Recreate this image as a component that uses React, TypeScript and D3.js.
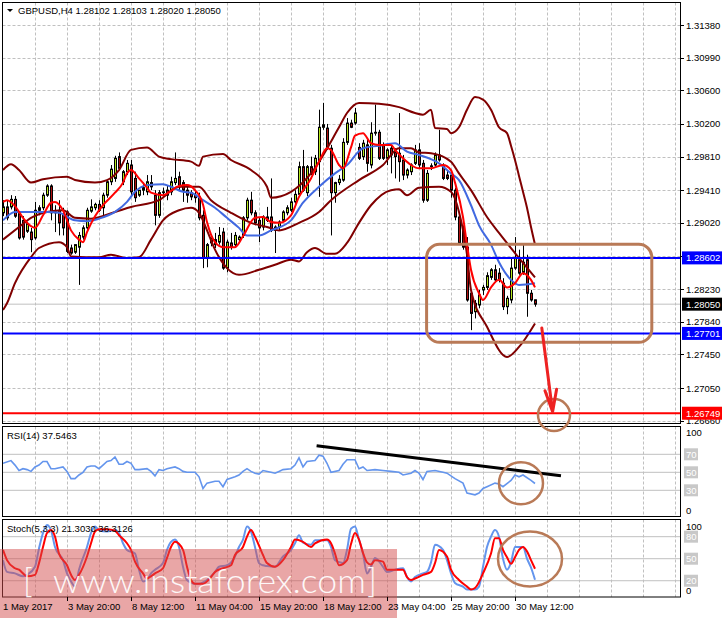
import React from 'react';
import * as d3 from 'd3';

// GBPUSD H4 candles, bar 0 = first bar on screen
const opens = [1.2914, 1.2921, 1.2921, 1.2930, 1.2913, 1.2905, 1.2892, 1.2891, 1.2884, 1.2917,
  1.2920, 1.2935, 1.2946, 1.2915, 1.2917, 1.2913, 1.2915, 1.2872, 1.2867, 1.2873,
  1.2885, 1.2896, 1.2916, 1.2920, 1.2924, 1.2920, 1.2935, 1.2951, 1.2955, 1.2981,
  1.2951, 1.2963, 1.2971, 1.2955, 1.2935, 1.2941, 1.2939, 1.2950, 1.2935, 1.2911,
  1.2938, 1.2941, 1.2939, 1.2950, 1.2957, 1.2950, 1.2941, 1.2938, 1.2935, 1.2933,
  1.2911, 1.2860, 1.2878, 1.2882, 1.2879, 1.2891, 1.2848, 1.2878, 1.2876, 1.2882,
  1.2887, 1.2908, 1.2929, 1.2914, 1.2905, 1.2897, 1.2909, 1.2909, 1.2897, 1.2897,
  1.2905, 1.2914, 1.2917, 1.2927, 1.2936, 1.2969, 1.2938, 1.2969, 1.2963, 1.2975,
  1.3016, 1.3015, 1.2991, 1.2938, 1.2950, 1.2953, 1.2998, 1.3021, 1.3021, 1.2992,
  1.2981, 1.2995, 1.2971, 1.3009, 1.3010, 1.2995, 1.2979, 1.2991, 1.2986, 1.2985,
  1.2977, 1.2959, 1.2963, 1.2973, 1.2989, 1.2973, 1.2929, 1.2970, 1.2971, 1.2983,
  1.2969, 1.2959, 1.2959, 1.2941, 1.2909, 1.2893, 1.2873, 1.2818, 1.2796, 1.2804,
  1.2822, 1.2825, 1.2837, 1.2846, 1.2842, 1.2830, 1.2802, 1.2810, 1.2848, 1.2858,
  1.2843, 1.2858, 1.2818, 1.28102];
const highs = [1.2929, 1.2929, 1.2935, 1.2934, 1.2915, 1.2910, 1.2903, 1.2896, 1.2927, 1.2923,
  1.2938, 1.2948, 1.2948, 1.2923, 1.2929, 1.2920, 1.2917, 1.2876, 1.2876, 1.2891,
  1.2899, 1.2920, 1.2930, 1.2926, 1.2929, 1.2938, 1.2953, 1.2971, 1.2982, 1.2986,
  1.2965, 1.2977, 1.2977, 1.2963, 1.2941, 1.2950, 1.2959, 1.2959, 1.2941, 1.2941,
  1.2944, 1.2947, 1.2957, 1.2986, 1.2963, 1.2953, 1.2946, 1.2941, 1.2941, 1.2938,
  1.2917, 1.2878, 1.2884, 1.2890, 1.2897, 1.2896, 1.2882, 1.2890, 1.2891, 1.2887,
  1.2910, 1.2932, 1.2939, 1.2917, 1.2908, 1.2911, 1.2921, 1.2955, 1.2899, 1.2905,
  1.2917, 1.2923, 1.2932, 1.2941, 1.2975, 1.2989, 1.2971, 1.2981, 1.2983, 1.3037,
  1.3045, 1.3020, 1.2995, 1.2951, 1.2959, 1.3003, 1.3027, 1.3025, 1.3039, 1.2997,
  1.3001, 1.3001, 1.3022, 1.3043, 1.3013, 1.2998, 1.2991, 1.2995, 1.2991, 1.3033,
  1.2983, 1.2967, 1.2973, 1.2995, 1.2997, 1.2977, 1.2965, 1.2973, 1.2986, 1.3013,
  1.2973, 1.2965, 1.2963, 1.2944, 1.2911, 1.2899, 1.2885, 1.2822, 1.2810, 1.2822,
  1.2828, 1.2843, 1.2848, 1.2852, 1.2848, 1.2836, 1.2815, 1.2860, 1.2885, 1.2870,
  1.2876, 1.2864, 1.2822, 1.28103];
const lows = [1.2910, 1.2905, 1.2918, 1.2908, 1.2882, 1.2882, 1.2890, 1.2867, 1.2882, 1.2911,
  1.2917, 1.2933, 1.2905, 1.2891, 1.2887, 1.2887, 1.2866, 1.2864, 1.2865, 1.2828,
  1.2882, 1.2893, 1.2914, 1.2917, 1.2915, 1.2911, 1.2932, 1.2947, 1.2951, 1.2965,
  1.2947, 1.2959, 1.2935, 1.2927, 1.2933, 1.2935, 1.2935, 1.2941, 1.2899, 1.2908,
  1.2933, 1.2929, 1.2935, 1.2947, 1.2941, 1.2927, 1.2926, 1.2929, 1.2926, 1.2905,
  1.2848, 1.2849, 1.2874, 1.2872, 1.2876, 1.2846, 1.2843, 1.2870, 1.2873, 1.2878,
  1.2884, 1.2905, 1.2911, 1.2899, 1.2879, 1.2893, 1.2903, 1.2891, 1.2866, 1.2893,
  1.2903, 1.2911, 1.2915, 1.2924, 1.2934, 1.2939, 1.2934, 1.2959, 1.2959, 1.2933,
  1.3013, 1.2989, 1.2887, 1.2926, 1.2947, 1.2951, 1.2995, 1.3015, 1.3019, 1.2977,
  1.2977, 1.2963, 1.2967, 1.3006, 1.2977, 1.2977, 1.2971, 1.2961, 1.2955, 1.2951,
  1.2953, 1.2955, 1.2959, 1.2971, 1.2967, 1.2926, 1.2927, 1.2965, 1.2969, 1.2975,
  1.2953, 1.2953, 1.2932, 1.2905, 1.2876, 1.2870, 1.2808, 1.2774, 1.2788, 1.2800,
  1.2816, 1.2822, 1.2834, 1.2831, 1.2831, 1.2798, 1.2793, 1.2806, 1.2846, 1.2840,
  1.2840, 1.2790, 1.2808, 1.28020];
const closes = [1.2921, 1.2908, 1.2930, 1.2910, 1.2884, 1.2885, 1.2901, 1.2882, 1.2917, 1.2920,
  1.2935, 1.2946, 1.2914, 1.2914, 1.2902, 1.2896, 1.2868, 1.2866, 1.2876, 1.2887,
  1.2896, 1.2917, 1.2921, 1.2924, 1.2917, 1.2935, 1.2951, 1.2966, 1.2979, 1.2967,
  1.2963, 1.2973, 1.2939, 1.2932, 1.2941, 1.2944, 1.2951, 1.2945, 1.2911, 1.2938,
  1.2939, 1.2935, 1.2951, 1.2955, 1.2945, 1.2941, 1.2935, 1.2933, 1.2932, 1.2908,
  1.2860, 1.2876, 1.2884, 1.2876, 1.2887, 1.2848, 1.2879, 1.2873, 1.2887, 1.2885,
  1.2908, 1.2929, 1.2914, 1.2902, 1.2896, 1.2909, 1.2905, 1.2893, 1.2893, 1.2903,
  1.2915, 1.2920, 1.2927, 1.2936, 1.2969, 1.2941, 1.2969, 1.2961, 1.2979, 1.3016,
  1.3019, 1.2991, 1.2938, 1.2950, 1.2954, 1.2998, 1.3021, 1.3016, 1.3033, 1.2979,
  1.2997, 1.2973, 1.3009, 1.3010, 1.2979, 1.2979, 1.2989, 1.2983, 1.2981, 1.2975,
  1.2959, 1.2965, 1.2971, 1.2989, 1.2971, 1.2929, 1.2961, 1.2969, 1.2983, 1.2977,
  1.2955, 1.2955, 1.2941, 1.2909, 1.2878, 1.2873, 1.2810, 1.2794, 1.2806, 1.2816,
  1.2825, 1.2839, 1.2846, 1.2834, 1.2834, 1.2802, 1.2812, 1.2848, 1.2860, 1.2842,
  1.2855, 1.2818, 1.2810, 1.28050];

// indicator lines as [bar, value]
const bbUpper = [[0, 1.2965], [2, 1.2972], [4, 1.2965], [7, 1.2950], [10, 1.2954], [16, 1.2957], [18, 1.2953],
  [23, 1.2950], [26, 1.2953], [29, 1.2965], [32, 1.2989], [36, 1.2992], [39, 1.2981], [42, 1.2978], [47, 1.2975],
  [49, 1.2970], [50, 1.2981], [55, 1.2984], [57, 1.2977], [62, 1.2965], [66, 1.2945], [67, 1.2932], [72, 1.2939],
  [77, 1.2961], [84, 1.3016], [86, 1.3033], [89, 1.3045], [94, 1.3044], [99, 1.3040], [103, 1.3033], [105, 1.3031],
  [107, 1.3037], [108, 1.3015], [111, 1.3014], [112, 1.3009], [114, 1.3016], [116, 1.3037], [118, 1.3052],
  [120, 1.3049], [122, 1.3037], [124, 1.3016], [126, 1.3009], [127, 1.2994], [128, 1.2977], [129, 1.2958],
  [130, 1.2939], [131, 1.2920], [132, 1.2897], [133, 1.2876]];
const bbMiddle = [[0, 1.2882], [4, 1.2897], [7, 1.2908], [11, 1.2915], [15, 1.2917], [18, 1.2908], [22, 1.2907],
  [28, 1.2915], [32, 1.2921], [39, 1.2929], [44, 1.2945], [49, 1.2945], [52, 1.2929], [57, 1.2914], [62, 1.2902],
  [66, 1.2897], [69, 1.2893], [74, 1.2902], [79, 1.2915], [82, 1.2929], [89, 1.2953], [95, 1.2971], [99, 1.2991],
  [102, 1.2991], [104, 1.2986], [107, 1.2985], [112, 1.2975], [114, 1.2961], [117, 1.2941], [121, 1.2909],
  [124, 1.2890], [128, 1.2866], [133, 1.2837]];
const bbLower = [[0, 1.2798], [1, 1.2806], [3, 1.2830], [7, 1.2861], [9, 1.2872], [14, 1.2879], [16, 1.2873],
  [17, 1.2862], [24, 1.2861], [27, 1.2864], [31, 1.2860], [34, 1.2861], [37, 1.2882], [40, 1.2905], [44, 1.2917],
  [47, 1.2920], [49, 1.2914], [51, 1.2893], [53, 1.2870], [56, 1.2848], [59, 1.2840], [64, 1.2846], [68, 1.2852],
  [72, 1.2858], [74, 1.2856], [76, 1.2867], [78, 1.2872], [81, 1.2865], [83, 1.2865], [86, 1.2878], [89, 1.2902],
  [92, 1.2923], [97, 1.2941], [99, 1.2942], [101, 1.2935], [104, 1.2944], [109, 1.2945], [112, 1.2939],
  [114, 1.2915], [116, 1.2864], [117, 1.2822], [121, 1.2778], [126, 1.2742], [129, 1.2754], [133, 1.2782]];
const maFast = [[0, 1.2927], [1, 1.2929], [3, 1.2922], [5, 1.2908], [7, 1.2898], [8, 1.2896], [10, 1.2911],
  [12, 1.2926], [13, 1.2927], [15, 1.2917], [17, 1.2893], [19, 1.2882], [20, 1.2879], [21, 1.2891], [23, 1.2910],
  [25, 1.2923], [28, 1.2938], [30, 1.2950], [31, 1.2961], [32, 1.2965], [34, 1.2955], [36, 1.2944], [37, 1.2938],
  [40, 1.2935], [42, 1.2940], [44, 1.2946], [46, 1.2947], [48, 1.2941], [50, 1.2924], [51, 1.2903], [53, 1.2879],
  [55, 1.2873], [58, 1.2873], [60, 1.2886], [63, 1.2908], [65, 1.2909], [67, 1.2903], [69, 1.2902], [72, 1.2911],
  [74, 1.2933], [77, 1.2955], [79, 1.2975], [81, 1.2991], [82, 1.2989], [84, 1.2971], [85, 1.2967], [87, 1.2992],
  [88, 1.3006], [90, 1.3009], [92, 1.2997], [94, 1.2995], [97, 1.2995], [98, 1.2989], [100, 1.2979], [102, 1.2971],
  [104, 1.2967], [107, 1.2967], [110, 1.2971], [112, 1.2965], [113, 1.2950], [115, 1.2909], [116, 1.2876],
  [117, 1.2846], [119, 1.2818], [120, 1.2810], [122, 1.2825], [124, 1.2834], [126, 1.2825], [128, 1.2830],
  [130, 1.2842], [132, 1.2834], [133, 1.2825]];
const maSlow = [[0, 1.2905], [3, 1.2915], [11, 1.2915], [14, 1.2914], [18, 1.2905], [21, 1.2904], [24, 1.2907],
  [28, 1.2915], [31, 1.2927], [33, 1.2939], [36, 1.2947], [40, 1.2948], [42, 1.2945], [45, 1.2939], [47, 1.2938],
  [50, 1.2929], [53, 1.2920], [56, 1.2908], [59, 1.2896], [61, 1.2887], [64, 1.2887], [67, 1.2893], [72, 1.2905],
  [75, 1.2926], [79, 1.2945], [83, 1.2961], [86, 1.2971], [90, 1.2991], [94, 1.2994], [98, 1.2997], [101, 1.2987],
  [104, 1.2983], [109, 1.2973], [112, 1.2961], [114, 1.2953], [117, 1.2923], [119, 1.2899], [122, 1.2876],
  [124, 1.2855], [127, 1.2834], [129, 1.2828], [133, 1.2830]];

const rsiLine = [[0, 60], [2, 63], [3, 58], [4, 52], [5, 54], [6, 53], [7, 51], [8, 56], [9, 58], [10, 62], [11, 62],
  [12, 54], [13, 54], [15, 56], [16, 51], [17, 43], [18, 43], [19, 47], [20, 50], [21, 56], [22, 57], [23, 57],
  [24, 54], [25, 58], [26, 62], [27, 63], [28, 67], [29, 59], [30, 59], [31, 62], [32, 60], [33, 53], [34, 53],
  [36, 54], [37, 51], [38, 46], [39, 53], [40, 52], [41, 54], [43, 56], [44, 54], [45, 51], [46, 50], [48, 50],
  [49, 45], [50, 32], [51, 38], [53, 40], [54, 40], [55, 34], [56, 42], [58, 45], [59, 47], [60, 51], [61, 54],
  [62, 51], [63, 49], [64, 48], [65, 52], [67, 50], [68, 49], [69, 51], [70, 53], [72, 54], [73, 58], [74, 66],
  [75, 56], [76, 62], [78, 63], [79, 69], [80, 68], [81, 60], [82, 50], [84, 52], [85, 59], [86, 64], [88, 64],
  [89, 54], [90, 56], [91, 52], [93, 53], [95, 52], [97, 51], [99, 50], [100, 47], [102, 49], [103, 52], [104, 49],
  [105, 42], [106, 51], [108, 52], [110, 50], [111, 49], [113, 43], [115, 38], [116, 27], [118, 25], [119, 27],
  [120, 32], [121, 34], [123, 38], [124, 37], [125, 34], [127, 41], [128, 47], [129, 45], [130, 47], [132, 41],
  [133, 37.55]];
const stochMain = [[0, 48], [1, 32], [3, 30], [5, 26], [6, 28], [8, 39], [9, 64], [10, 85], [11, 96], [12, 89],
  [13, 66], [15, 48], [16, 30], [17, 19], [18, 12], [19, 35], [21, 66], [22, 85], [23, 94], [24, 89], [26, 87],
  [28, 89], [29, 85], [30, 71], [31, 62], [33, 57], [34, 35], [35, 19], [36, 21], [37, 30], [38, 35], [40, 44],
  [41, 62], [42, 73], [43, 76], [44, 66], [45, 39], [46, 21], [48, 16], [49, 16], [51, 21], [53, 32], [54, 39],
  [56, 41], [58, 53], [59, 66], [60, 76], [61, 94], [62, 87], [63, 66], [64, 44], [65, 41], [66, 40], [68, 39],
  [70, 53], [72, 62], [73, 71], [74, 82], [75, 72], [77, 69], [78, 75], [81, 75], [82, 66], [83, 48], [85, 44],
  [86, 62], [87, 91], [88, 94], [89, 76], [90, 57], [91, 30], [92, 39], [93, 51], [95, 39], [96, 32], [98, 35],
  [100, 37], [101, 25], [102, 19], [103, 25], [105, 30], [106, 32], [107, 45], [108, 69], [110, 62], [111, 48],
  [112, 30], [113, 17], [115, 12], [116, 8], [118, 8], [119, 12], [120, 39], [121, 66], [122, 80], [123, 89],
  [124, 80], [125, 50], [126, 35], [127, 45], [128, 66], [130, 66], [131, 50], [132, 38], [133, 21.3]];
const stochSignal = [[0, 62], [1, 48], [3, 37], [4, 35], [5, 30], [6, 26], [8, 28], [9, 44], [10, 66], [11, 85],
  [12, 89], [13, 80], [14, 57], [16, 41], [17, 28], [18, 21], [19, 28], [21, 53], [22, 71], [23, 87], [24, 90],
  [26, 90], [28, 88], [29, 82], [31, 71], [32, 62], [33, 46], [35, 30], [36, 23], [37, 26], [38, 30], [40, 37],
  [41, 51], [42, 66], [43, 73], [45, 62], [46, 39], [47, 21], [48, 16], [50, 16], [52, 25], [53, 32], [55, 37],
  [57, 41], [58, 55], [60, 66], [61, 80], [62, 89], [63, 80], [65, 55], [66, 44], [68, 39], [70, 48], [72, 66],
  [73, 76], [75, 73], [77, 66], [78, 71], [81, 76], [82, 71], [83, 57], [84, 41], [86, 48], [87, 70], [88, 85],
  [89, 76], [90, 58], [91, 45], [92, 42], [93, 48], [95, 46], [96, 35], [98, 35], [100, 35], [101, 25], [102, 21],
  [103, 23], [105, 28], [107, 32], [108, 44], [109, 62], [111, 53], [112, 35], [114, 21], [116, 12], [117, 8],
  [118, 10], [120, 30], [122, 57], [123, 78], [124, 78], [125, 62], [126, 52], [127, 43], [128, 52], [129, 62],
  [130, 66], [131, 60], [132, 48], [133, 36.3]];

const priceTicks = [1.3138, 1.3099, 1.3060, 1.3020, 1.2981, 1.2941, 1.2902, 1.2862, 1.2823, 1.2784, 1.2745, 1.2705, 1.2666];
const timeLabels = ['1 May 2017', '3 May 20:00', '8 May 12:00', '11 May 04:00', '15 May 20:00', '18 May 12:00',
  '23 May 04:00', '25 May 20:00', '30 May 12:00'];
const timeLabelBars = [0, 16, 32, 48, 64, 80, 96, 112, 128];
const supportLevels = [1.28602, 1.27701];
const targetLevel = 1.26749;
const lastPrice = 1.2805;
const rsiLevels = [70, 50, 30];
const stochLevels = [80, 50, 20];

// hand-drawn marks, in bar / value units
const rangeBox = [105.9, 162.2, 1.28764, 1.27595];
const arrowFrom = [134.7, 1.27765];
const arrowTip = [137.4, 1.26767];
const arrowHeadL = [135.5, 1.27017];
const arrowHeadR = [138.4, 1.27034];
const targetMark = [137.75, 1.26727];
const rsiTrend = [[78.4, 79.6], [139.5, 46.2]];
const rsiMark = [129.5, 37.8];
const stochMark = [131.75, 49.7];

const FONT = "'Liberation Sans', Arial, sans-serif";
const BROWN = '#b97a57';

export default function App() {
  const x = d3.scaleLinear().domain([0, 169.25]).range([3, 680]);
  const y = d3.scaleLinear().domain([1.2705, 1.3138]).range([388, 25]);
  const yRsi = d3.scaleLinear().domain([0, 100]).range([517.3, 427.3]);
  const ySto = d3.scaleLinear().domain([0, 100]).range([595.4, 522]);

  const priceLine = d3.line<number[]>().x(d => x(d[0])).y(d => y(d[1])).curve(d3.curveMonotoneX);
  const rsiPath = d3.line<number[]>().x(d => x(d[0])).y(d => yRsi(d[1]));
  const stoPath = d3.line<number[]>().x(d => x(d[0])).y(d => ySto(d[1])).curve(d3.curveMonotoneX);

  const vGrid = d3.range(8, 169, 8);
  const L = 2.5, R = 680.5;
  const panels = [[2.5, 423.5], [426.5, 516.5], [519.5, 597]];
  // tick labels that sit under a level box are not shown
  const shownTicks = priceTicks.filter(t => supportLevels.every(v => Math.abs(y(t) - y(v)) > 8));

  const label = (v: number, txt: string, bg: string, fg: string, key: string) => (
    <g key={key}>
      <rect x={682} y={y(v) - 6.5} width={40} height={13} fill={bg} />
      <text x={686} y={y(v) + 3.5} fontSize={9.5} fill={fg}>{txt}</text>
    </g>
  );

  return (
    <svg width={723} height={618} style={{ position: 'absolute', left: 0, top: 0, background: '#fff' }} fontFamily={FONT}>
      <defs>
        <clipPath id="cMain"><rect x={3} y={3} width={677} height={420} /></clipPath>
        <clipPath id="cRsi"><rect x={3} y={427} width={677} height={89} /></clipPath>
        <clipPath id="cSto"><rect x={3} y={520} width={677} height={76.5} /></clipPath>
      </defs>
      <rect width={723} height={618} fill="#fff" />

      {/* vertical grid */}
      {panels.map((p, i) => (
        <g key={'vg' + i}>
          {vGrid.map(b => (
            <line key={b} x1={x(b) + 0.5} x2={x(b) + 0.5} y1={p[0]} y2={p[1]} stroke="#c0c0c0" strokeDasharray="3,2" />
          ))}
        </g>
      ))}
      {/* price grid */}
      {priceTicks.map(t => (
        <line key={t} x1={L} x2={R} y1={Math.round(y(t)) + 0.5} y2={Math.round(y(t)) + 0.5} stroke="#c0c0c0" strokeDasharray="3,2" />
      ))}
      {rsiLevels.map(v => (
        <line key={'r' + v} x1={L} x2={R} y1={yRsi(v)} y2={yRsi(v)} stroke="#c0c0c0" />
      ))}
      {stochLevels.map(v => (
        <line key={'s' + v} x1={L} x2={R} y1={ySto(v)} y2={ySto(v)} stroke="#c0c0c0" />
      ))}

      <g clipPath="url(#cMain)">
        <line x1={L} x2={R} y1={y(lastPrice)} y2={y(lastPrice)} stroke="#c0c0c0" />
        {/* candles */}
        {closes.map((c, i) => {
          const cx = Math.round(x(i));
          const o = opens[i];
          const top = y(Math.max(o, c)), bot = y(Math.min(o, c));
          return (
            <g key={i}>
              <line x1={cx + 0.5} x2={cx + 0.5} y1={y(highs[i])} y2={y(lows[i])} stroke="#000" />
              <rect x={cx - 0.5} y={top} width={2} height={Math.max(bot - top, 0.5)}
                fill={c >= o ? '#b5e61d' : '#b01010'} stroke="#000" />
            </g>
          );
        })}
        <path d={priceLine(bbUpper) || ''} fill="none" stroke="#800000" strokeWidth={2} />
        <path d={priceLine(bbMiddle) || ''} fill="none" stroke="#800000" strokeWidth={2} />
        <path d={priceLine(bbLower) || ''} fill="none" stroke="#800000" strokeWidth={2} />
        <path d={priceLine(maSlow) || ''} fill="none" stroke="#4169e1" strokeWidth={2} />
        <path d={priceLine(maFast) || ''} fill="none" stroke="#ff0000" strokeWidth={2} />
        {supportLevels.map(v => (
          <line key={v} x1={L} x2={R} y1={y(v)} y2={y(v)} stroke="#0000ff" strokeWidth={2} />
        ))}
        <line x1={L} x2={R} y1={y(targetLevel)} y2={y(targetLevel)} stroke="#ff0000" strokeWidth={2} />
      </g>

      <g clipPath="url(#cRsi)">
        <path d={rsiPath(rsiLine) || ''} fill="none" stroke="#6495ed" strokeWidth={1.6} />
      </g>
      <g clipPath="url(#cSto)">
        <path d={stoPath(stochMain) || ''} fill="none" stroke="#6495ed" strokeWidth={2} />
        <path d={stoPath(stochSignal) || ''} fill="none" stroke="#ff0000" strokeWidth={2} />
      </g>

      {/* panel borders */}
      {panels.map((p, i) => (
        <rect key={'pb' + i} x={L} y={p[0]} width={R - L} height={p[1] - p[0]} fill="none" stroke="#000" />
      ))}

      {/* right price scale */}
      {priceTicks.map(t => (
        <line key={'tk' + t} x1={681} x2={684} y1={Math.round(y(t)) + 0.5} y2={Math.round(y(t)) + 0.5} stroke="#000" />
      ))}
      {shownTicks.map(t => (
        <text key={'pt' + t} x={686} y={y(t) + 3.5} fontSize={9.5} fill="#000">{t.toFixed(5)}</text>
      ))}
      {label(lastPrice, lastPrice.toFixed(5), '#000', '#fff', 'lp')}
      {supportLevels.map(v => label(v, v.toFixed(5), '#0000ff', '#fff', 'sl' + v))}
      {label(targetLevel, targetLevel.toFixed(5), '#ff0000', '#fff', 'tl')}

      {/* indicator scales */}
      <text x={686} y={yRsi(100) + 9} fontSize={9.5}>100</text>
      <text x={686} y={yRsi(0) - 3} fontSize={9.5}>0</text>
      {rsiLevels.map(v => (
        <g key={'rl' + v}>
          <rect x={684} y={yRsi(v) - 6} width={14} height={12} fill="#c8c8c8" />
          <text x={686} y={yRsi(v) + 3.5} fontSize={9.5} fill="#fff">{v}</text>
        </g>
      ))}
      <text x={686} y={ySto(100) + 8} fontSize={9.5}>100</text>
      <text x={686} y={ySto(0) - 1} fontSize={9.5}>0</text>
      {stochLevels.map(v => (
        <g key={'sl' + v}>
          <rect x={684} y={ySto(v) - 6} width={14} height={12} fill="#c8c8c8" />
          <text x={686} y={ySto(v) + 3.5} fontSize={9.5} fill="#fff">{v}</text>
        </g>
      ))}

      {/* titles */}
      <path d="M7,9 L13,9 L10,12 Z" fill="#000" />
      <text x={18} y={14} fontSize={9.5}>GBPUSD,H4  1.28102 1.28103 1.28020 1.28050</text>
      <text x={7} y={439} fontSize={9.5}>RSI(14) 37.5463</text>

      {/* watermark */}
      <rect x={0} y={549} width={397} height={69} fill="rgb(211,77,77)" opacity={0.5} />
      <g fill="#fff" fontFamily="Lato, 'Open Sans', sans-serif" fontWeight={300} opacity={0.92}>
        <text x={23} y={593} fontSize={33}>[</text>
        <text x={53} y={593} fontSize={33} textLength={313} lengthAdjust="spacingAndGlyphs">www.instaforex.com</text>
        <text x={367} y={593} fontSize={33}>]</text>
      </g>
      <text x={7} y={532} fontSize={9.5}>Stoch(5,3,3) 21.3030 36.3126</text>

      {/* time axis */}
      {timeLabelBars.map((b, i) => (
        <g key={'tl' + b}>
          {b > 0 && <line x1={x(b) + 0.5} x2={x(b) + 0.5} y1={597} y2={601} stroke="#000" />}
          <text x={b > 0 ? x(b) + 1 : 3} y={610} fontSize={9.5}>{timeLabels[i]}</text>
        </g>
      ))}

      {/* annotations */}
      <rect x={x(rangeBox[0])} y={y(rangeBox[2])} width={x(rangeBox[1]) - x(rangeBox[0])}
        height={y(rangeBox[3]) - y(rangeBox[2])} rx={13} fill="none" stroke={BROWN} strokeWidth={3} />
      <circle cx={x(targetMark[0])} cy={y(targetMark[1])} r={16} fill="none" stroke={BROWN} strokeWidth={2.5} />
      <path d={`M${x(arrowFrom[0])},${y(arrowFrom[1])} L${x(arrowTip[0])},${y(arrowTip[1])}
        M${x(arrowHeadL[0])},${y(arrowHeadL[1])} L${x(arrowTip[0])},${y(arrowTip[1])} L${x(arrowHeadR[0])},${y(arrowHeadR[1])}`}
        fill="none" stroke="#ee2222" strokeWidth={3} strokeLinecap="round" strokeLinejoin="round" />
      <line x1={x(rsiTrend[0][0])} y1={yRsi(rsiTrend[0][1])} x2={x(rsiTrend[1][0])} y2={yRsi(rsiTrend[1][1])}
        stroke="#000" strokeWidth={3} />
      <ellipse cx={x(rsiMark[0])} cy={yRsi(rsiMark[1])} rx={22} ry={21} fill="none" stroke={BROWN} strokeWidth={2.5} />
      <ellipse cx={x(stochMark[0])} cy={ySto(stochMark[1])} rx={32} ry={27.5} fill="none" stroke={BROWN} strokeWidth={2.5} />
    </svg>
  );
}
